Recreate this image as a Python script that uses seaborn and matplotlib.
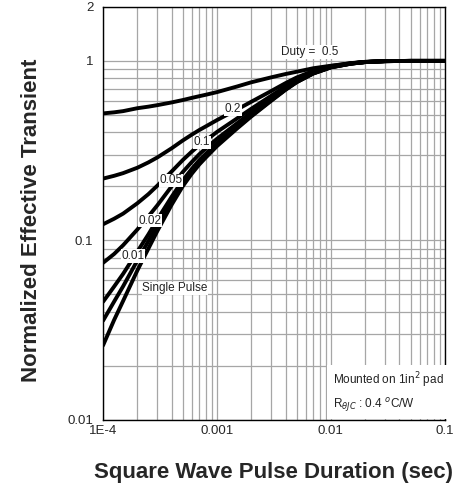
import pandas as pd
import seaborn as sns
import matplotlib.pyplot as plt
from matplotlib.ticker import LogLocator, FixedLocator, FixedFormatter, NullFormatter

# pulse duration (sec)
t = [1e-4, 1.25e-4, 1.5e-4, 2e-4, 2.5e-4, 3e-4, 4e-4, 5e-4, 6e-4, 7e-4, 8e-4,
     1e-3, 1.5e-3, 2e-3, 3e-3, 4e-3, 5e-3, 7e-3, 1e-2, 1.5e-2, 2e-2, 3e-2, 5e-2, 1e-1]

# normalized effective transient
duty_05 = [0.51, 0.517, 0.525, 0.545, 0.556, 0.567, 0.587, 0.605, 0.622, 0.636, 0.648,
           0.67, 0.72, 0.76, 0.81, 0.845, 0.87, 0.91, 0.94, 0.97, 0.985, 0.997, 1.0, 1.0]
duty_02 = [0.221, 0.229, 0.237, 0.254, 0.272, 0.29, 0.326, 0.36, 0.388, 0.412, 0.432,
           0.468, 0.536, 0.592, 0.68, 0.752, 0.808, 0.88, 0.936, 0.972, 0.988, 0.998, 1.0, 1.0]
duty_01 = [0.123, 0.132, 0.141, 0.161, 0.181, 0.202, 0.242, 0.28, 0.312, 0.339, 0.361,
           0.402, 0.478, 0.541, 0.64, 0.721, 0.784, 0.865, 0.928, 0.969, 0.987, 0.997, 1.0, 1.0]
duty_005 = [0.075, 0.084, 0.094, 0.115, 0.136, 0.157, 0.2, 0.24, 0.273, 0.302, 0.326,
            0.368, 0.449, 0.516, 0.62, 0.706, 0.772, 0.858, 0.924, 0.967, 0.986, 0.997, 1.0, 1.0]
duty_002 = [0.0455, 0.0553, 0.0651, 0.0866, 0.108, 0.131, 0.175, 0.216, 0.25, 0.28, 0.304,
            0.348, 0.432, 0.5, 0.608, 0.696, 0.765, 0.853, 0.922, 0.966, 0.985, 0.997, 1.0, 1.0]
duty_001 = [0.0357, 0.0456, 0.0555, 0.0773, 0.0991, 0.122, 0.166, 0.208, 0.243, 0.272, 0.297,
            0.342, 0.426, 0.495, 0.604, 0.693, 0.762, 0.852, 0.921, 0.965, 0.985, 0.997, 1.0, 1.0]
single = [0.026, 0.036, 0.046, 0.068, 0.09, 0.113, 0.158, 0.2, 0.235, 0.265, 0.29,
          0.335, 0.42, 0.49, 0.6, 0.69, 0.76, 0.85, 0.92, 0.965, 0.985, 0.997, 1.0, 1.0]

series = {"0.5": duty_05, "0.2": duty_02, "0.1": duty_01, "0.05": duty_005,
          "0.02": duty_002, "0.01": duty_001, "single": single}

x_ticks = [1e-4, 1e-3, 1e-2, 1e-1]
x_labels = ["1E-4", "0.001", "0.01", "0.1"]
y_ticks = [0.01, 0.1, 1, 2]
y_labels = ["0.01", "0.1", "1", "2"]

rows = []
for name, vals in series.items():
    for x, y in zip(t, vals):
        rows.append({"t": x, "z": y, "duty": name})
df = pd.DataFrame(rows)

sns.set_style("white")
plt.rcParams['font.family'] = ['Liberation Sans', 'DejaVu Sans']

fig = plt.figure(figsize=(4.6, 4.9), dpi=100)
ax = fig.add_axes([0.224, 0.143, 0.743, 0.843])

sns.lineplot(data=df, x="t", y="z", hue="duty", palette=["black"] * 7,
             linewidth=2.8, legend=False, ax=ax, zorder=3)

ax.set_xscale("log")
ax.set_yscale("log")
ax.set_xlim(1e-4, 0.1)
ax.set_ylim(0.01, 2)

ax.xaxis.set_major_locator(FixedLocator(x_ticks))
ax.xaxis.set_major_formatter(FixedFormatter(x_labels))
ax.yaxis.set_major_locator(FixedLocator(y_ticks))
ax.yaxis.set_major_formatter(FixedFormatter(y_labels))
ax.xaxis.set_minor_locator(LogLocator(base=10, subs=range(2, 10)))
ax.yaxis.set_minor_locator(LogLocator(base=10, subs=range(2, 10)))
ax.xaxis.set_minor_formatter(NullFormatter())
ax.yaxis.set_minor_formatter(NullFormatter())

ax.grid(True, which="both", color="#a6a6a6", linewidth=0.9)
ax.tick_params(which="both", length=0)
ax.tick_params(axis="x", pad=4, labelsize=9.5)
ax.tick_params(axis="y", pad=7, labelsize=9.5)
for s in ax.spines.values():
    s.set_color("black")
    s.set_linewidth(1)

ax.set_xlabel("Square Wave Pulse Duration (sec)", fontsize=16, fontweight="bold", labelpad=18)
ax.set_ylabel("Normalized Effective Transient", fontsize=16, fontweight="bold")
ax.yaxis.set_label_coords(-0.178, 0.484)

box = dict(facecolor="white", edgecolor="none", pad=0.5)
lab = dict(fontsize=8.5, ha="center", va="center", color="#222222", bbox=box, zorder=4)
ax.text(6.55e-3, 1.12, "Duty =  0.5", **lab)
ax.text(1.38e-3, 0.538, "0.2", **lab)
ax.text(7.38e-4, 0.352, "0.1", **lab)
ax.text(3.94e-4, 0.216, "0.05", **lab)
ax.text(2.58e-4, 0.129, "0.02", **lab)
ax.text(1.83e-4, 0.082, "0.01", **lab)
ax.text(4.28e-4, 0.054, "Single Pulse", **lab)

ax.text(0.672, 0.068, "Mounted on 1in$^2$ pad\nR$_{\\theta JC}$ : 0.4 $^o$C/W",
        transform=ax.transAxes, fontsize=8.5, color="#222222", va="center", ha="left",
        linespacing=1.5, zorder=4,
        bbox=dict(facecolor="white", edgecolor="none", pad=4))

plt.savefig("out.png", dpi=100)
